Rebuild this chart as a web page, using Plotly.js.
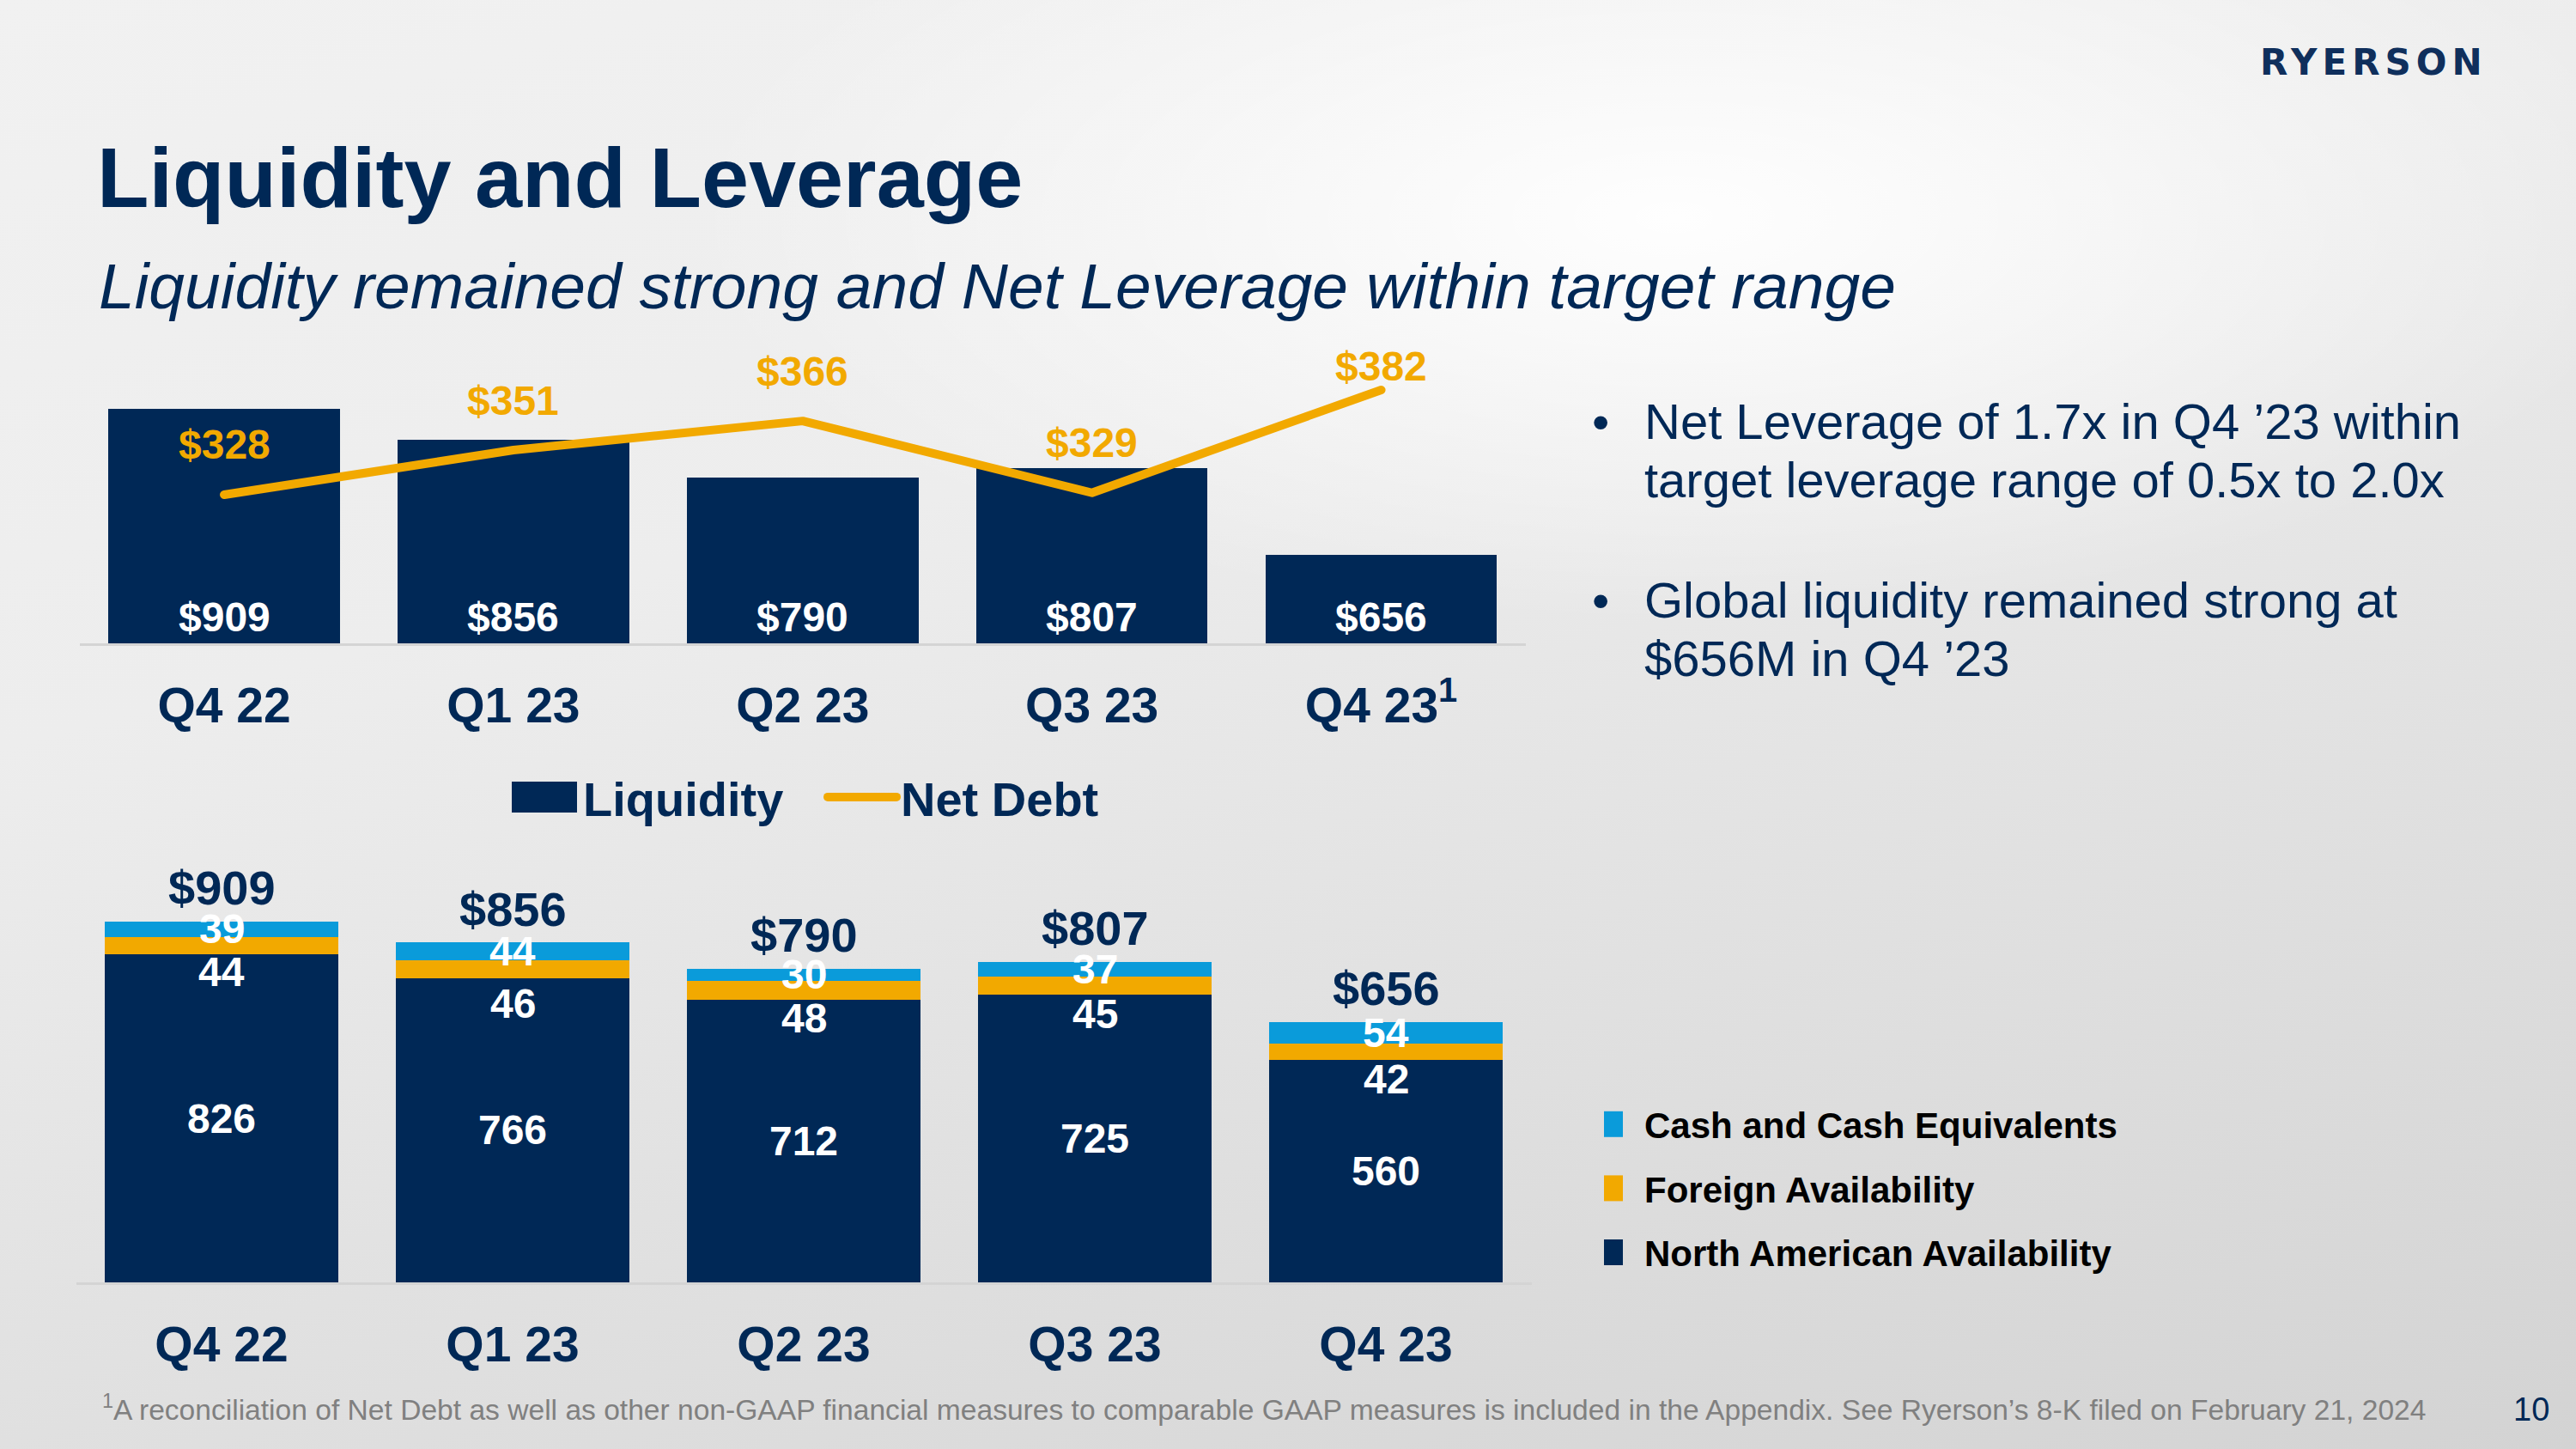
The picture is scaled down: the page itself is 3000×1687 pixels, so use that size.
<!DOCTYPE html>
<html><head><meta charset="utf-8">
<script src="https://cdn.plot.ly/plotly-3.0.1.min.js"></script>
<style>
html,body{margin:0;padding:0;width:3000px;height:1687px;overflow:hidden;}
body{background:
 radial-gradient(ellipse 55% 40% at 65% 15%, rgba(255,255,255,0.95), rgba(255,255,255,0) 70%),
 linear-gradient(165deg,#F1F1F1 0%,#EDEDED 35%,#DFDFDF 70%,#D3D3D3 100%);}
#chart{width:3000px;height:1687px;}
</style></head><body><div id="chart"></div>
<script>
// ---------- data ----------
const categories = ['Q4 22', 'Q1 23', 'Q2 23', 'Q3 23', 'Q4 23'];
const topTickLabels = ['Q4 22', 'Q1 23', 'Q2 23', 'Q3 23', 'Q4 23<sup>1</sup>'];
const liquidity = [909, 856, 790, 807, 656];
const netDebt = [328, 351, 366, 329, 382];
const northAmericanAvailability = [826, 766, 712, 725, 560];
const foreignAvailability = [44, 46, 48, 45, 42];
const cashEquivalents = [39, 44, 30, 37, 54];

// ---------- style ----------
const W = 3000, H = 1687;
const px = v => v / W;
const py = v => 1 - v / H;
const FONT = 'Liberation Sans, Arial, sans-serif';
const NAVY = '#002856';
const ORANGE = '#F2A900';
const BLUE = '#0A9BDA';
const netLabelShift = [58, 58, 58, 58, 27];
const foreignLabelShift = [-20, -30, -22, -23, -22];
const topRange = [503, 1022];
const top2Range = [251.4, 405.9];
const bottomRange = [0, 1044.6];

const data = [
  {type: 'bar', name: 'Liquidity', x: categories, y: liquidity, xaxis: 'x', yaxis: 'y',
   marker: {color: NAVY}, legend: 'legend', hoverinfo: 'skip', textposition: 'none'},
  {type: 'scatter', mode: 'lines', name: 'Net Debt', x: categories, y: netDebt, xaxis: 'x', yaxis: 'y2',
   line: {color: ORANGE, width: 10}, legend: 'legend', hoverinfo: 'skip'},
  {type: 'bar', name: 'North American Availability', x: categories, y: northAmericanAvailability,
   xaxis: 'x2', yaxis: 'y3', marker: {color: NAVY}, legend: 'legend2', legendgroup: 'na', legendrank: 3,
   texttemplate: '%{y}', textposition: 'inside', insidetextanchor: 'middle', textangle: 0,
   constraintext: 'none',
   insidetextfont: {family: FONT, size: 48, color: '#FFFFFF', weight: 'bold'}, hoverinfo: 'skip'},
  {type: 'bar', name: 'Foreign Availability', x: categories, y: foreignAvailability,
   xaxis: 'x2', yaxis: 'y3', marker: {color: ORANGE}, legend: 'legend2', legendgroup: 'fa', legendrank: 2,
   textposition: 'none', hoverinfo: 'skip'},
  {type: 'bar', name: 'Cash and Cash Equivalents', x: categories, y: cashEquivalents,
   xaxis: 'x2', yaxis: 'y3', marker: {color: BLUE}, legend: 'legend2', legendgroup: 'cash', legendrank: 1,
   textposition: 'none', hoverinfo: 'skip'}
];

const annotations = [];
// top bar value labels
categories.forEach((c, i) => annotations.push({
  x: c, y: topRange[0], xref: 'x', yref: 'y', yanchor: 'middle', yshift: 31, showarrow: false,
  text: '$' + liquidity[i], font: {family: FONT, size: 48, color: '#FFFFFF', weight: 'bold'}
}));
// net debt labels
categories.forEach((c, i) => annotations.push({
  x: c, y: netDebt[i], xref: 'x', yref: 'y2', yanchor: 'middle', yshift: netLabelShift[i], showarrow: false,
  text: '$' + netDebt[i], font: {family: FONT, size: 48, color: ORANGE, weight: 'bold'}
}));
// bottom totals, foreign and cash labels
categories.forEach((c, i) => {
  const na = northAmericanAvailability[i], fa = foreignAvailability[i], ca = cashEquivalents[i];
  annotations.push({x: c, y: na + fa + ca, xref: 'x2', yref: 'y3', yanchor: 'middle', yshift: 39, showarrow: false,
    text: '$' + (na + fa + ca), font: {family: FONT, size: 56, color: NAVY, weight: 'bold'}});
  annotations.push({x: c, y: na, xref: 'x2', yref: 'y3', yanchor: 'middle', yshift: foreignLabelShift[i], showarrow: false,
    text: String(fa), font: {family: FONT, size: 48, color: '#FFFFFF', weight: 'bold'}});
  annotations.push({x: c, y: na + fa + ca / 2, xref: 'x2', yref: 'y3', yanchor: 'middle', showarrow: false,
    text: String(ca), font: {family: FONT, size: 48, color: '#FFFFFF', weight: 'bold'}});
});
// slide texts
const paperText = (text, x, y, size, opts) => annotations.push(Object.assign({
  text: text, x: px(x), y: py(y), xref: 'paper', yref: 'paper', xanchor: 'left', yanchor: 'middle',
  showarrow: false, font: Object.assign({family: FONT, size: size, color: NAVY}, (opts && opts.font) || {})
}, (opts && opts.extra) || {}));
paperText('Liquidity remained strong and Net Leverage within target range', 113, 333, 75, {font: {style: 'italic'}});
paperText('•', 1852, 490, 58);
paperText('Net Leverage of 1.7x in Q4 ’23 within', 1913, 490, 58);
paperText('target leverage range of 0.5x to 2.0x', 1913, 559, 58);
paperText('•', 1852, 698, 58);
paperText('Global liquidity remained strong at', 1913, 698, 58);
paperText('$656M in Q4 ’23', 1913, 767, 58);
paperText('<sup>1</sup>A reconciliation of Net Debt as well as other non-GAAP financial measures to comparable GAAP measures is included in the Appendix. See Ryerson’s 8-K filed on February 21, 2024',
  117, 1639, 33.6, {font: {color: '#808080'}});
paperText('10', 2948, 1641, 38, {extra: {xanchor: 'center'}});
paperText('RYERSON', 2764, 73, 42, {font: {family: 'DejaVu Sans, sans-serif', weight: 'bold', color: '#0F2F5C'}, extra: {xanchor: 'center'}});

const catAxis = {type: 'category', showline: true, linecolor: '#D4D4D4', linewidth: 3, ticks: '',
  showgrid: false, zeroline: false, ticklabelstandoff: 21, fixedrange: true,
  tickfont: {family: FONT, size: 57, color: NAVY, weight: 'bold'}};
const hiddenY = {showgrid: false, zeroline: false, showticklabels: false, showline: false, ticks: '', fixedrange: true};

const layout = {
  width: W, height: H, autosize: false,
  margin: {l: 0, r: 0, t: 0, b: 0, pad: 0},
  paper_bgcolor: 'rgba(0,0,0,0)', plot_bgcolor: 'rgba(0,0,0,0)',
  font: {family: FONT, color: NAVY},
  title: {text: 'Liquidity and Leverage', x: px(113), xanchor: 'left', y: py(206), yanchor: 'middle',
    font: {family: FONT, size: 99, color: NAVY, weight: 'bold'}},
  barmode: 'stack', bargap: 0.2,
  xaxis: Object.assign({}, catAxis, {domain: [px(92.6), px(1777)], anchor: 'y',
    tickvals: categories, ticktext: topTickLabels}),
  yaxis: Object.assign({}, hiddenY, {domain: [py(749), py(400)], range: topRange, anchor: 'x'}),
  yaxis2: Object.assign({}, hiddenY, {overlaying: 'y', range: top2Range, anchor: 'x', side: 'right'}),
  xaxis2: Object.assign({}, catAxis, {domain: [px(88.5), px(1783.5)], anchor: 'y3'}),
  yaxis3: Object.assign({}, hiddenY, {domain: [py(1493), py(1010)], range: bottomRange, anchor: 'x2'}),
  showlegend: true,
  legend: {orientation: 'h', x: px(589), xanchor: 'left', y: py(928), yanchor: 'middle',
    itemwidth: 80, entrywidth: 275, entrywidthmode: 'pixels', bgcolor: 'rgba(0,0,0,0)', traceorder: 'normal',
    font: {family: FONT, size: 56, color: NAVY, weight: 'bold'}},
  legend2: {orientation: 'v', x: px(1859), xanchor: 'left', y: py(1275), yanchor: 'top',
    itemwidth: 46, traceorder: 'grouped', tracegroupgap: 17, bgcolor: 'rgba(0,0,0,0)',
    font: {family: FONT, size: 42, color: '#000000', weight: 'bold'}},
  annotations: annotations
};

const gd = document.getElementById('chart');
function tweakLegend() {
  gd.querySelectorAll('g.legendpoints path').forEach(p => {
    const d = p.getAttribute('d') || '';
    if (d.indexOf('H') < 0) return;
    const inSecond = !!p.closest('.legend2');
    p.setAttribute('d', inSecond ? 'M3,15H-19V-15H3Z' : 'M38,18H-38V-18H38Z');
  });
  gd.querySelectorAll('.legendlines path, .legend .js-line').forEach(p => {
    p.style.setProperty('stroke-width', '10px', 'important');
    p.style.setProperty('stroke-linecap', 'round');
  });
  gd.querySelectorAll('.scatterlayer .js-line').forEach(p => {
    p.style.strokeLinecap = 'round';
    p.style.strokeLinejoin = 'round';
  });
  gd.querySelectorAll('text').forEach(t => { if (t.textContent === 'RYERSON') t.style.letterSpacing = '6px'; });
}
Plotly.newPlot(gd, data, layout, {staticPlot: true, displayModeBar: false}).then(() => {
  tweakLegend();
  setTimeout(tweakLegend, 300);
});
</script>
</body></html>
